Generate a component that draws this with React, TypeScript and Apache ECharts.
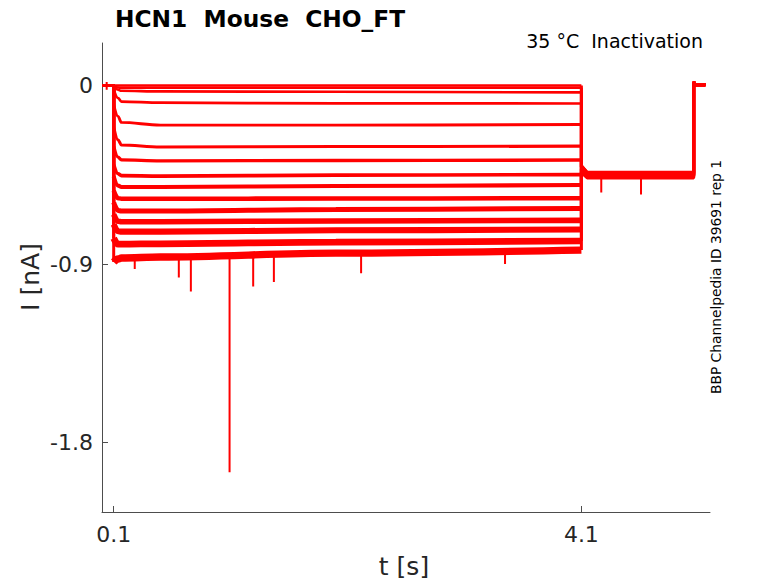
import React, { useEffect, useRef } from "react";
import * as echarts from "echarts";

// ---- protocol timing (s) ----
const T_START = 0;
const T_STEP_ON = 0.1;
const T_EARLY_1 = 0.137;
const T_EARLY_2 = 0.166;
const T_SETTLED = 0.5;
const T_MID = 2.0;
const T_STEP_OFF = 4.1;
const T_TAIL_SETTLE = 4.15;
const T_TAIL_OFF = 5.06;
const T_RETURN_SETTLE = 5.075;
const T_END = 5.16;

// ---- current per sweep (nA) ----
const holdingCurrent = 0;
const onsetCurrent = [0, -0.005, -0.008, -0.02, -0.097, -0.21, -0.307, -0.4, -0.46, -0.53, -0.59, -0.65, -0.7, -0.77, -0.89];
const early1Current = [0, -0.01, -0.022, -0.064, -0.156, -0.274, -0.361, -0.445, -0.505, -0.568, -0.63, -0.685, -0.735, -0.8, -0.875];
const early2Current = [0, -0.012, -0.027, -0.081, -0.186, -0.3, -0.375, -0.455, -0.512, -0.571, -0.633, -0.687, -0.737, -0.8, -0.87];
const settledCurrent = [0, -0.012, -0.03, -0.087, -0.2, -0.31, -0.38, -0.457, -0.512, -0.571, -0.633, -0.687, -0.737, -0.798, -0.865];
const midCurrent = [0, -0.012, -0.032, -0.09, -0.2, -0.308, -0.378, -0.452, -0.507, -0.57, -0.625, -0.683, -0.73, -0.79, -0.845];
const endCurrent = [0, -0.012, -0.035, -0.091, -0.197, -0.306, -0.376, -0.449, -0.502, -0.568, -0.62, -0.68, -0.726, -0.784, -0.83];
const tailOnsetCurrent = [-0.41, -0.42, -0.405, -0.43, -0.415, -0.425, -0.41, -0.435, -0.42, -0.415, -0.43, -0.405, -0.44, -0.42, -0.425];
const tailCurrent = [-0.445, -0.452, -0.438, -0.46, -0.449, -0.455, -0.442, -0.463, -0.451, -0.447, -0.458, -0.44, -0.466, -0.453, -0.457];
const returnOvershoot = 0.017;
const returnCurrent = 0.004;

// ---- single-sample spikes: time, start, tip ----
const spikeTimes = [0.04, 0.28, 0.657, 0.76, 1.091, 1.293, 1.47, 2.216, 3.447, 4.27, 4.61];
const spikeFrom = [0.017, -0.87, -0.87, -0.87, -0.86, -0.86, -0.86, -0.84, -0.83, -0.47, -0.47];
const spikeTo = [-0.022, -0.925, -0.968, -1.038, -1.95, -1.013, -0.991, -0.946, -0.9, -0.54, -0.55];

// ---- axes ----
const xTicks = [0.1, 4.1];
const yTicks = [0, -0.9, -1.8];
const X_MIN = 0;
const X_MAX = 5.2;
const Y_MIN = -2.15;
const Y_MAX = 0.214;

const FONT = "DejaVu Sans";
const RED = "#ff0000";
const AXIS_COLOR = "#4d4d4d";
const TEXT_COLOR = "#262626";

export default function App() {
  const ref = useRef<HTMLDivElement>(null);

  useEffect(() => {
    if (!ref.current) return;
    const chart = echarts.init(ref.current, undefined, { renderer: "svg" });

    const series: any[] = [];
    onsetCurrent.forEach((_, i) => {
      const stepWidth = 2.5 + i * i * 0.025;
      series.push({
        type: "line",
        silent: true,
        symbol: "none",
        data: [
          [T_START, holdingCurrent],
          [T_STEP_ON, holdingCurrent],
          [T_STEP_ON, onsetCurrent[i]],
        ],
        lineStyle: { color: RED, width: 3 },
      });
      series.push({
        type: "line",
        silent: true,
        symbol: "none",
        smooth: 0.35,
        smoothMonotone: "x",
        data: [
          [T_STEP_ON, onsetCurrent[i]],
          [T_EARLY_1, early1Current[i]],
          [T_EARLY_2, early2Current[i]],
          [T_SETTLED, settledCurrent[i]],
          [T_MID, midCurrent[i]],
          [T_STEP_OFF, endCurrent[i]],
        ],
        lineStyle: { color: RED, width: stepWidth },
      });
      series.push({
        type: "line",
        silent: true,
        symbol: "none",
        data: [
          [T_STEP_OFF, endCurrent[i]],
          [T_STEP_OFF, tailOnsetCurrent[i]],
          [T_TAIL_SETTLE, tailCurrent[i]],
          [T_TAIL_OFF, tailCurrent[i]],
          [T_TAIL_OFF, returnOvershoot],
          [T_RETURN_SETTLE, returnCurrent],
          [T_END, returnCurrent],
        ],
        lineStyle: { color: RED, width: 3 },
      });
    });

    const spikeData: any[] = [];
    spikeTimes.forEach((t, k) => {
      spikeData.push([t, spikeFrom[k]], [t, spikeTo[k]], [null, null]);
    });
    series.push({
      type: "line",
      silent: true,
      symbol: "none",
      connectNulls: false,
      data: spikeData,
      lineStyle: { color: RED, width: 2 },
    });

    const option: any = {
      animation: false,
      backgroundColor: "#ffffff",
      grid: { left: 102, right: 68, top: 43, bottom: 71 },
      xAxis: {
        type: "value",
        min: X_MIN,
        max: X_MAX,
        axisLine: { show: true, onZero: false, lineStyle: { color: AXIS_COLOR, width: 1 } },
        axisTick: { show: true, inside: true, length: 6, customValues: xTicks, lineStyle: { color: AXIS_COLOR } },
        axisLabel: {
          customValues: xTicks,
          formatter: (v: number) => v.toFixed(1),
          fontSize: 22,
          fontFamily: FONT,
          color: TEXT_COLOR,
          margin: 11,
        },
        splitLine: { show: false },
      },
      yAxis: {
        type: "value",
        min: Y_MIN,
        max: Y_MAX,
        axisLine: { show: true, onZero: false, lineStyle: { color: AXIS_COLOR, width: 1 } },
        axisTick: { show: true, inside: true, length: 6, customValues: yTicks, lineStyle: { color: AXIS_COLOR } },
        axisLabel: {
          customValues: yTicks,
          formatter: (v: number) => (v === 0 ? "0" : String(v)),
          fontSize: 22,
          fontFamily: FONT,
          color: TEXT_COLOR,
          margin: 9,
        },
        splitLine: { show: false },
      },
      graphic: [
        {
          type: "text",
          x: 115,
          y: 18,
          style: { text: "HCN1  Mouse  CHO_FT", fontSize: 23.3, fontWeight: "bold", fontFamily: FONT, fill: "#000", align: "left", verticalAlign: "middle" },
        },
        {
          type: "text",
          x: 703,
          y: 41,
          style: { text: "35 °C  Inactivation", fontSize: 19, fontFamily: FONT, fill: "#000", align: "right", verticalAlign: "middle" },
        },
        {
          type: "text",
          x: 716,
          y: 277,
          rotation: Math.PI / 2,
          style: { text: "BBP Channelpedia ID 39691 rep 1", fontSize: 13.8, fontFamily: FONT, fill: "#000", align: "center", verticalAlign: "middle" },
        },
        {
          type: "text",
          x: 30,
          y: 277,
          rotation: Math.PI / 2,
          style: { text: "I [nA]", fontSize: 25, fontFamily: FONT, fill: TEXT_COLOR, align: "center", verticalAlign: "middle" },
        },
        {
          type: "text",
          x: 404,
          y: 566,
          style: { text: "t [s]", fontSize: 25, fontFamily: FONT, fill: TEXT_COLOR, align: "center", verticalAlign: "middle" },
        },
      ],
      series,
    };

    chart.setOption(option);
    return () => chart.dispose();
  }, []);

  return (
    <div
      ref={ref}
      style={{ position: "fixed", left: 0, top: 0, width: 778, height: 583, background: "#fff" }}
    />
  );
}
